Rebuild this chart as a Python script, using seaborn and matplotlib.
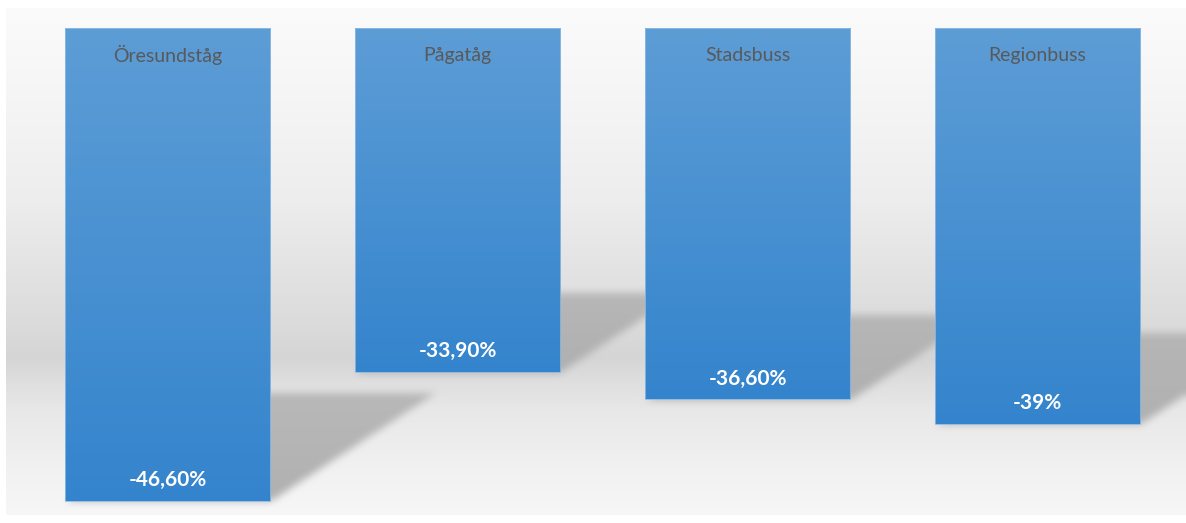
import numpy as np
import matplotlib
matplotlib.use("Agg")
import matplotlib.pyplot as plt
from matplotlib.colors import LinearSegmentedColormap
import seaborn as sns

# ---- data ----
categories = ["Öresundståg", "Pågatåg", "Stadsbuss", "Regionbuss"]
values = [-46.6, -33.9, -36.6, -39.0]
value_labels = ["-46,60%", "-33,90%", "-36,60%", "-39%"]

W, H, DPI = 1186, 523, 100
sns.set_theme(style="white")
plt.rcParams['font.family'] = ['Lato', 'DejaVu Sans']

fig = plt.figure(figsize=(W / DPI, H / DPI), dpi=DPI)
fig.patch.set_facecolor("white")

# background axes in pixel coordinates
bg = fig.add_axes([0, 0, 1, 1], zorder=0)
bg.set_xlim(0, W)
bg.set_ylim(H, 0)
bg.axis("off")

# main axes
ax = fig.add_axes([0, 0, 1, 1], zorder=1)
ax.patch.set_alpha(0)
px_per_unit = 10.15
XLIM = (-167.5 / 290, (W - 167.5) / 290)
YLIM = (-(H - 28) / px_per_unit, 28 / px_per_unit)
ax.set_xlim(*XLIM)
ax.set_ylim(*YLIM)

sns.barplot(x=categories, y=values, ax=ax, width=0.707, color="#4a90d0",
            saturation=1, edgecolor="#8fbbe4", linewidth=0.6, zorder=3)
ax.set_xlim(*XLIM)
ax.set_ylim(*YLIM)
ax.axis("off")
fig.canvas.draw()

# ---- background gradient + shadows raster ----
stops_y = [0, 8, 100, 200, 290, 330, 358, 380, 410, 460, 515, 523]
stops_g = [251, 251, 245, 237, 224, 218, 213, 222, 232, 240, 247, 247]
rows = np.interp(np.arange(H), stops_y, stops_g)
img = np.tile(rows[:, None], (1, W)).astype(float)

yy, xx = np.mgrid[0:H, 0:W]
alpha = np.zeros((H, W))
to_px = ax.transData
for p in ax.patches:
    xl, xr = p.get_x(), p.get_x() + p.get_width()
    v = p.get_y() + p.get_height()
    (pxl, pyb), = to_px.transform([(xl, v)])
    (pxr, pyt), = to_px.transform([(xr, 0)])
    pyb = H - pyb
    pyt = H - pyt
    L = pyb - pyt
    dx, dy = 0.35 * L, 0.23 * L
    top = pyb - dy
    inside_y = (yy >= top) & (yy <= pyb)
    t = (pyb - yy) / dy
    shift = t * dx
    inside = inside_y & (xx >= pxl + shift) & (xx <= pxr + shift)
    # slightly fade toward the far (top) edge
    strength = np.where(inside, 1.0 - 0.15 * np.clip(t, 0, 1), 0.0)
    alpha = np.maximum(alpha, strength)

def blur(a, r):
    k = 2 * r + 1
    pad = np.pad(a, ((r, r), (r, r)), mode="edge")
    c = np.cumsum(np.pad(pad, ((0, 0), (1, 0))), axis=1)
    a1 = (c[:, k:] - c[:, :-k]) / k
    c = np.cumsum(np.pad(a1, ((1, 0), (0, 0))), axis=0)
    return (c[k:, :] - c[:-k, :]) / k

alpha = blur(blur(alpha, 4), 4)
shadow_gray = 176
img = img * (1 - alpha) + shadow_gray * alpha

# white outer frame
img[:8, :] = 255
img[515:, :] = 255
img[:, :6] = 255

rgb = np.repeat((img / 255.0)[:, :, None], 3, axis=2).clip(0, 1)
bg.imshow(rgb, extent=(0, W, H, 0), origin="upper", aspect="auto",
          interpolation="bilinear")
bg.set_xlim(0, W)
bg.set_ylim(H, 0)

# ---- gradient fill on bars ----
bar_cmap = LinearSegmentedColormap.from_list("bar", ["#5d9dd6", "#3484cd"])
grad = np.linspace(0, 1, 256).reshape(-1, 1)
for p in ax.patches:
    xl, xr = p.get_x(), p.get_x() + p.get_width()
    v = p.get_y() + p.get_height()
    im = ax.imshow(grad, cmap=bar_cmap, extent=(xl, xr, v, 0), origin="upper",
                   aspect="auto", zorder=3.5, interpolation="bilinear")
    im.set_clip_path(p)
    p.set_zorder(4)
    p.set_facecolor("none")

ax.set_xlim(*XLIM)
ax.set_ylim(*YLIM)

# ---- labels ----
for i, (cat, val, lab) in enumerate(zip(categories, values, value_labels)):
    ax.text(i, -27 / px_per_unit, cat, ha="center", va="center",
            fontsize=14, color="#595959", zorder=5)
    ax.text(i, val + 21 / px_per_unit, lab, ha="center", va="center",
            fontsize=15, fontweight="bold", color="white", zorder=5)

fig.savefig("out.png", dpi=DPI)
